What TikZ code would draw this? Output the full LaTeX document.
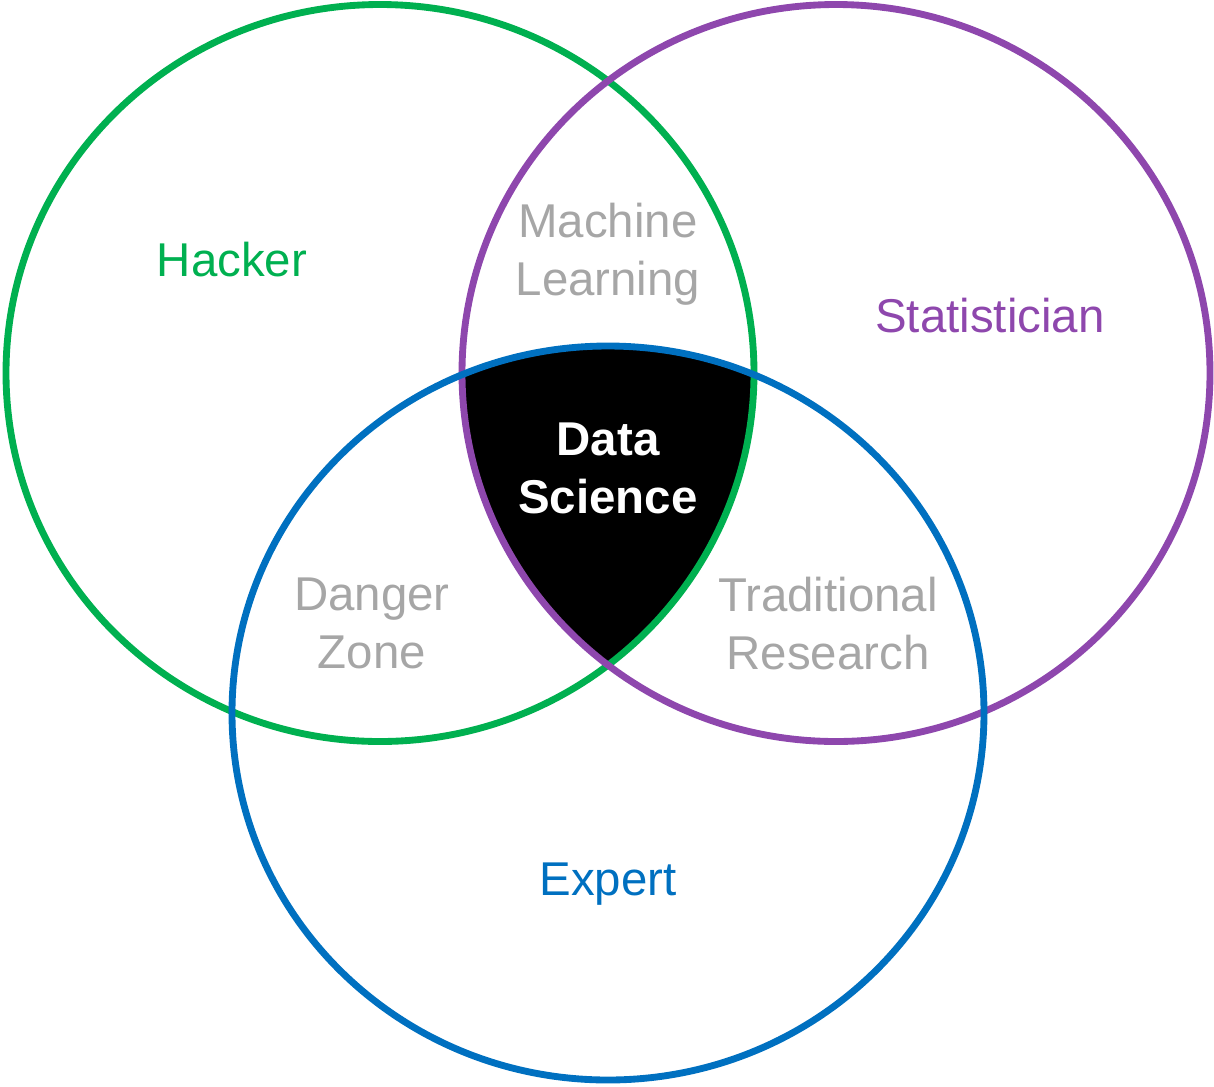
\documentclass[tikz,border=0pt]{standalone}
\usepackage{fontspec}
\setmainfont{Liberation Sans}
\usetikzlibrary{positioning}
\definecolor{hackergreen}{HTML}{00B050}
\definecolor{statpurple}{HTML}{8E47AD}
\definecolor{expertblue}{HTML}{0070C0}
\definecolor{zonegray}{HTML}{A6A6A6}
\tikzset{
    setring/.style={line width=3.9pt},
    setlabel/.style={font=\fontsize{27}{33}\selectfont, align=center, inner sep=0pt},
    zonelabel/.style={setlabel, text=zonegray},
    corelabel/.style={setlabel, text=white, font=\fontsize{27}{33}\selectfont\bfseries}
}

\begin{document}
\begin{tikzpicture}[x=0.02cm, y=-0.02cm]
    \useasboundingbox (0,0) rectangle (1214,1086);
    \coordinate (hackc) at (380,373);
    \coordinate (statc) at (836,373);
    \coordinate (expc) at (608,713);

    % black core = all three sets
    \begin{scope}
        \clip (hackc) ellipse [x radius=374, y radius=368.5];
        \clip (statc) ellipse [x radius=374, y radius=368.5];
        \fill[black] (expc) ellipse [x radius=376, y radius=367];
    \end{scope}

    \draw[setring, hackergreen] (hackc) ellipse [x radius=374, y radius=368.5];
    \draw[setring, statpurple] (statc) ellipse [x radius=374, y radius=368.5];
    \draw[setring, expertblue] (expc) ellipse [x radius=376, y radius=367];

    \node[setlabel, text=hackergreen] (hacker) at (232,260) {Hacker};
    \node[setlabel, text=statpurple] (stat) at (990,316) {Statistician};
    \node[setlabel, text=expertblue] (expert) at (608,884) {Expert};
    \node[zonelabel] (ml) at (608,254) {Machine\\Learning};
    \node[zonelabel] (danger) at (372,623) {Danger\\Zone};
    \node[zonelabel] (trad) at (828,624) {Traditional\\Research};
    \node[corelabel] (ds) at (608,468) {Data\\Science};
\end{tikzpicture}
\end{document}
